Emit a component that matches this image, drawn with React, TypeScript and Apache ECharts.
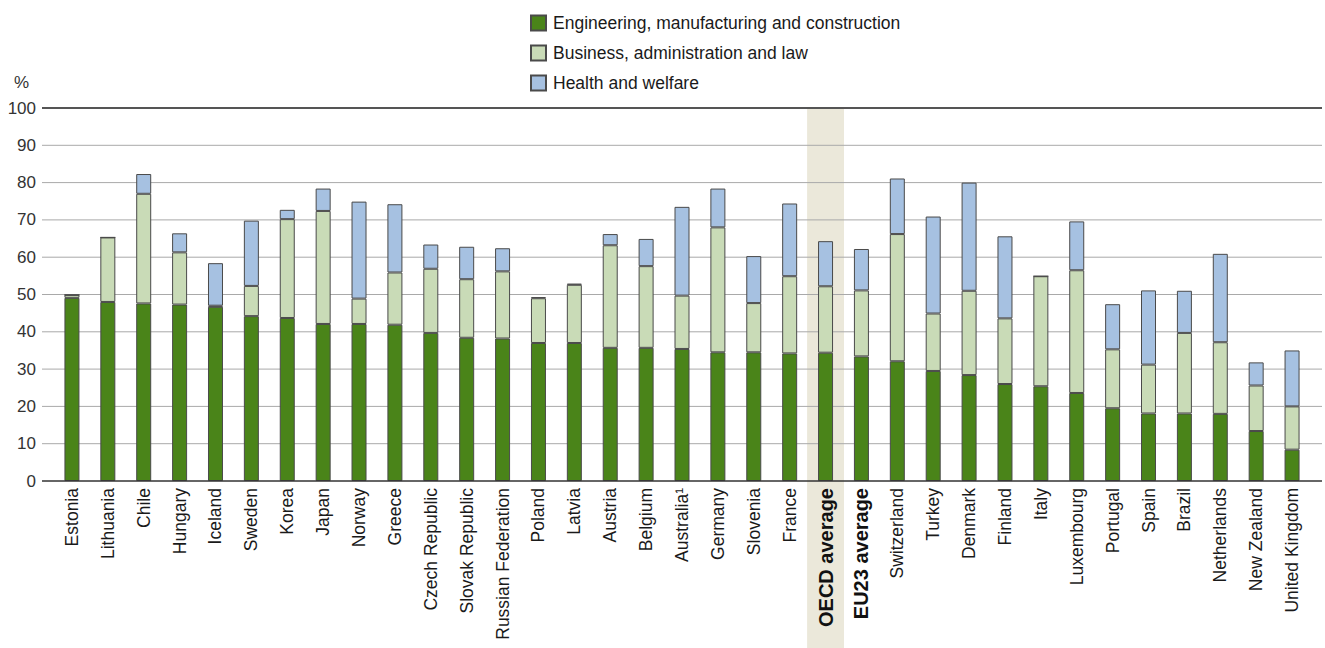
import React, { useEffect, useRef } from "react";
import * as echarts from "echarts";

const categories = [
  "Estonia", "Lithuania", "Chile", "Hungary", "Iceland", "Sweden", "Korea", "Japan",
  "Norway", "Greece", "Czech Republic", "Slovak Republic", "Russian Federation", "Poland",
  "Latvia", "Austria", "Belgium", "Australia¹", "Germany", "Slovenia", "France",
  "OECD average", "EU23 average", "Switzerland", "Turkey", "Denmark", "Finland", "Italy",
  "Luxembourg", "Portugal", "Spain", "Brazil", "Netherlands", "New Zealand", "United Kingdom",
];

const engineering = [
  49.1, 48.0, 47.6, 47.3, 46.7, 44.2, 43.7, 42.1, 42.1, 41.9, 39.7, 38.4, 38.2, 37.0,
  37.0, 35.7, 35.7, 35.4, 34.5, 34.5, 34.2, 34.4, 33.4, 32.1, 29.5, 28.4, 26.0, 25.4,
  23.6, 19.5, 18.1, 18.1, 18.0, 13.4, 8.4,
];

const business = [
  0.8, 17.3, 29.4, 14.0, 0.3, 8.1, 26.5, 30.3, 6.8, 14.0, 17.2, 15.7, 18.0, 12.0,
  15.6, 27.5, 21.9, 14.3, 33.5, 13.2, 20.7, 17.8, 17.7, 34.1, 15.4, 22.6, 17.6, 29.5,
  32.9, 15.8, 13.1, 21.6, 19.2, 12.2, 11.6,
];

const health = [
  0, 0, 5.3, 5.1, 11.4, 17.5, 2.5, 6.0, 26.0, 18.3, 6.5, 8.7, 6.2, 0.3,
  0.3, 3.0, 7.3, 23.8, 10.4, 12.6, 19.5, 12.1, 11.1, 14.9, 26.0, 29.0, 22.0, 0,
  13.1, 12.1, 19.9, 11.3, 23.7, 6.2, 15.0,
];

const yTicks = [0, 10, 20, 30, 40, 50, 60, 70, 80, 90, 100];
const boldCategories = ["OECD average", "EU23 average"];

const FONT = "Liberation Sans, Arial, sans-serif";
const GRID_COLOR = "#a9a9a9";

export default function App() {
  const ref = useRef<HTMLDivElement>(null);

  useEffect(() => {
    document.body.style.margin = "0";
    if (!ref.current) return;
    const chart = echarts.init(ref.current, undefined, { renderer: "svg" });
    const border = { borderColor: "#4a4a4a", borderWidth: 1 };
    chart.setOption({
      animation: false,
      textStyle: { fontFamily: FONT },
      legend: {
        orient: "vertical",
        left: 530,
        top: 14,
        padding: 0,
        itemWidth: 15,
        itemHeight: 15,
        itemGap: 12,
        icon: "rect",
        textStyle: { fontSize: 17.5, color: "#1a1a1a", fontFamily: FONT, padding: [0, 0, 0, 2] },
      },
      grid: { left: 54, right: 15, top: 108, bottom: 167 },
      xAxis: {
        type: "category",
        data: categories,
        boundaryGap: true,
        axisLine: { show: false },
        axisTick: { show: false },
        axisLabel: {
          rotate: 90,
          interval: 0,
          margin: 7,
          fontSize: 17.5,
          color: "#1a1a1a",
          fontFamily: FONT,
          formatter: (v: string) => (boldCategories.includes(v) ? `{b|${v}}` : v),
          rich: { b: { fontWeight: "bold", fontSize: 20, color: "#111", fontFamily: FONT } },
        },
      },
      yAxis: {
        type: "value",
        min: 0,
        max: 100,
        interval: 10,
        name: "%",
        nameLocation: "end",
        nameGap: 17,
        nameTextStyle: { fontSize: 17, color: "#333", fontFamily: FONT, align: "left", padding: [0, 0, 0, -40] },
        axisLine: { show: false },
        axisTick: { show: false },
        axisLabel: { fontSize: 17, color: "#333", margin: 18, fontFamily: FONT },
        splitLine: { show: false },
      },
      series: [
        {
          name: "Engineering, manufacturing and construction",
          type: "bar",
          stack: "t",
          barWidth: 15,
          z: 5,
          data: engineering,
          itemStyle: { color: "#4a8419", ...border },
        },
        {
          name: "Business, administration and law",
          type: "bar",
          stack: "t",
          barWidth: 15,
          z: 5,
          data: business,
          itemStyle: { color: "#c9dbb7", ...border },
        },
        {
          name: "Health and welfare",
          type: "bar",
          stack: "t",
          barWidth: 15,
          z: 5,
          data: health,
          itemStyle: { color: "#a6c1e1", ...border },
        },
      ],
    });

    // Highlight band and gridlines, positioned through the axes
    const bandCenter = chart.convertToPixel({ xAxisIndex: 0 }, "OECD average") as number;
    const first = chart.convertToPixel({ xAxisIndex: 0 }, categories[0]) as number;
    const second = chart.convertToPixel({ xAxisIndex: 0 }, categories[1]) as number;
    const step = second - first;
    const yTop = chart.convertToPixel({ yAxisIndex: 0 }, 100) as number;
    const gridLeft = first - step / 2;
    const gridRight = (chart.convertToPixel({ xAxisIndex: 0 }, categories[categories.length - 1]) as number) + step / 2;
    const elements: any[] = [
      {
        type: "rect",
        z: 0,
        shape: { x: bandCenter - step / 2 - 0.5, y: yTop, width: step + 1, height: 648 - yTop },
        style: { fill: "#ebe8da" },
        silent: true,
      },
    ];
    yTicks.forEach((v) => {
      const y = chart.convertToPixel({ yAxisIndex: 0 }, v) as number;
      const color = v === 0 ? "#333" : v === 100 ? "#555" : GRID_COLOR;
      const width = v === 0 ? 1.5 : v === 100 ? 2.2 : 1;
      elements.push({
        type: "line",
        z: v === 0 ? 6 : 1,
        silent: true,
        shape: { x1: gridLeft - 12, y1: y, x2: gridRight + 12, y2: y },
        style: { stroke: color, lineWidth: width },
      });
    });
    chart.setOption({ graphic: elements });

    return () => chart.dispose();
  }, []);

  return <div ref={ref} style={{ width: 1325, height: 648 }} />;
}
